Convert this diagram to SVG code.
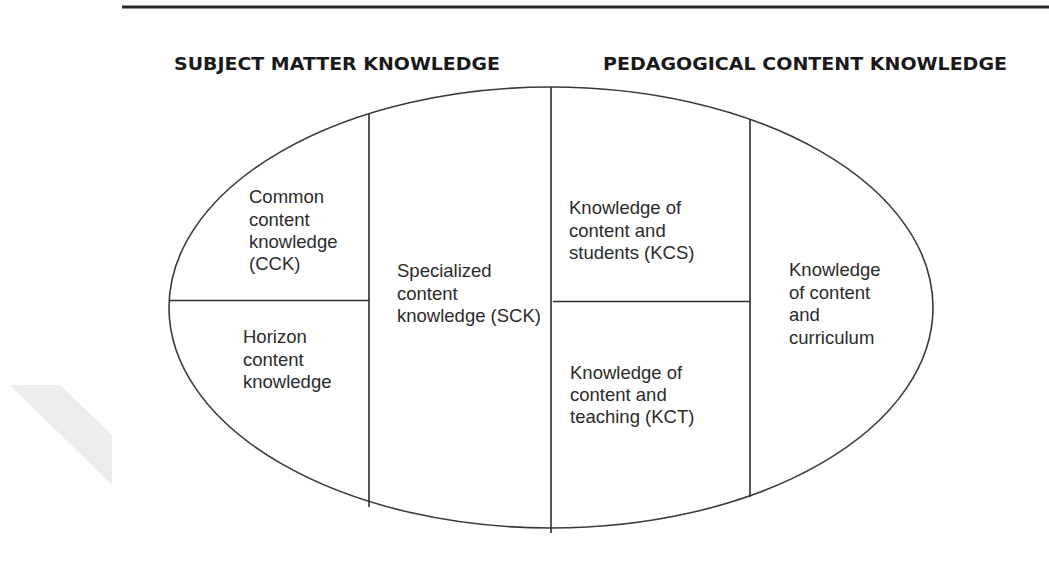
<svg xmlns="http://www.w3.org/2000/svg" width="1049" height="580" viewBox="0 0 1049 580">
  <style>
    .hdr { font-family: "DejaVu Sans", Verdana, sans-serif; font-weight: bold; font-size: 18px; fill: #1a1a1a; }
    .lbl { font-family: "Liberation Sans", Arial, sans-serif; font-size: 18.5px; fill: #2b2b2b; }
    .div { stroke: #2e2e2e; stroke-width: 1.6; fill: none; }
    .outline { stroke: #3a3a3a; stroke-width: 1.6; fill: none; }
  </style>
  <rect width="1049" height="580" fill="#ffffff"/>
  <polygon points="10,385 60,385 112,435 112,485" fill="#ededed"/>
  <line x1="122" y1="7" x2="1049" y2="7" stroke="#262626" stroke-width="2.8"/>

  <g id="headers">
    <text class="hdr" x="174" y="70" textLength="326" lengthAdjust="spacingAndGlyphs">SUBJECT MATTER KNOWLEDGE</text>
    <text class="hdr" x="603" y="70" textLength="404" lengthAdjust="spacingAndGlyphs">PEDAGOGICAL CONTENT KNOWLEDGE</text>
  </g>

  <g id="outline">
    <ellipse class="outline" cx="551" cy="307.5" rx="382" ry="220.5"/>
  </g>

  <g id="connectors">
    <line class="div" x1="369" y1="114" x2="369" y2="507"/>
    <line class="div" x1="551" y1="87" x2="551" y2="533"/>
    <line class="div" x1="750" y1="120" x2="750" y2="497"/>
    <line class="div" x1="170" y1="300.5" x2="369" y2="300.5"/>
    <line class="div" x1="553" y1="301.5" x2="750" y2="301.5"/>
  </g>

  <g id="node-cck">
    <text class="lbl" x="249" y="203">Common</text>
    <text class="lbl" x="249" y="225.5">content</text>
    <text class="lbl" x="249" y="248">knowledge</text>
    <text class="lbl" x="249" y="270">(CCK)</text>
  </g>
  <g id="node-horizon">
    <text class="lbl" x="243" y="343">Horizon</text>
    <text class="lbl" x="243" y="366">content</text>
    <text class="lbl" x="243" y="388">knowledge</text>
  </g>
  <g id="node-sck">
    <text class="lbl" x="397" y="277">Specialized</text>
    <text class="lbl" x="397" y="299.5">content</text>
    <text class="lbl" x="397" y="322">knowledge (SCK)</text>
  </g>
  <g id="node-kcs">
    <text class="lbl" x="569" y="214">Knowledge of</text>
    <text class="lbl" x="569" y="236.5">content and</text>
    <text class="lbl" x="569" y="258.5">students (KCS)</text>
  </g>
  <g id="node-kct">
    <text class="lbl" x="570" y="378.5">Knowledge of</text>
    <text class="lbl" x="570" y="401">content and</text>
    <text class="lbl" x="570" y="423">teaching (KCT)</text>
  </g>
  <g id="node-kcc">
    <text class="lbl" x="789" y="276">Knowledge</text>
    <text class="lbl" x="789" y="298.5">of content</text>
    <text class="lbl" x="789" y="321">and</text>
    <text class="lbl" x="789" y="343.5">curriculum</text>
  </g>
</svg>
